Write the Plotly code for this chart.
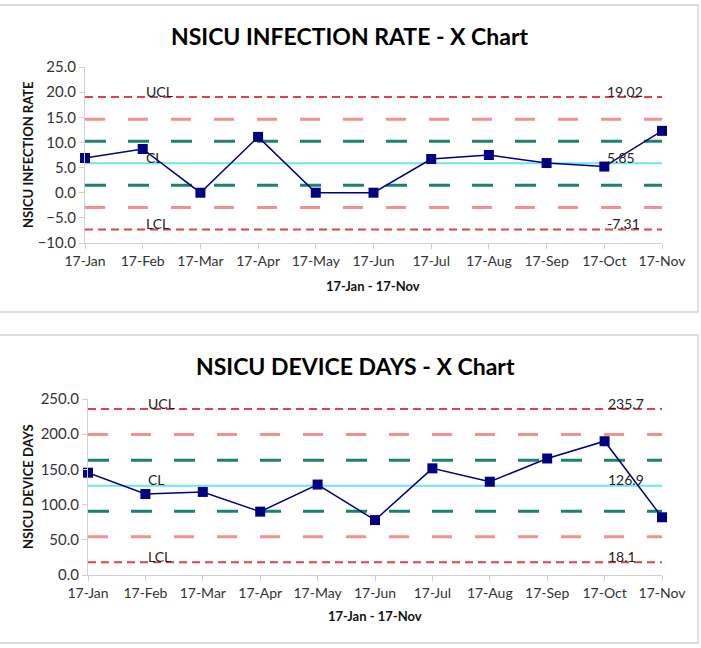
import plotly.graph_objects as go

months = ["17-Jan", "17-Feb", "17-Mar", "17-Apr", "17-May", "17-Jun",
          "17-Jul", "17-Aug", "17-Sep", "17-Oct", "17-Nov"]

infection_rate = [6.9, 8.7, 0.0, 11.1, 0.0, 0.0, 6.7, 7.5, 5.9, 5.2, 12.3]
inf_ucl, inf_cl, inf_lcl = 19.02, 5.85, -7.31

device_days = [145.3, 115.0, 118.0, 90.0, 128.5, 78.0, 151.5, 132.5, 165.5, 190.0, 82.0]
dev_ucl, dev_cl, dev_lcl = 235.7, 126.9, 18.1

FONT = "Lato"
NAVY = "#000080"
RED = "#dc4447"
PINK = "#f4908e"
TEAL = "#1b8271"
CYAN = "#6fe3ef"
AXIS = "#d0d0d0"

W, H = 701, 648

def px_x(p):
    return p / W

def px_y(p):
    return 1 - p / H

fig = go.Figure()


def add_chart(values, ucl, cl, lcl, value_labels, xa, ya):
    sigma = (ucl - cl) / 3.0
    levels = [
        (ucl, RED, "8px,5px", 2),
        (cl + 2 * sigma, PINK, "20px,23px", 3),
        (cl + sigma, TEAL, "21px,22px", 3),
        (cl, CYAN, "solid", 2),
        (cl - sigma, TEAL, "21px,22px", 3),
        (cl - 2 * sigma, PINK, "20px,23px", 3),
        (lcl, RED, "8px,5px", 2),
    ]
    for lv, col, dash, w in levels:
        fig.add_trace(go.Scatter(
            x=months, y=[lv] * len(months), mode="lines",
            line=dict(color=col, dash=dash, width=w), cliponaxis=False,
            xaxis=xa, yaxis=ya, hoverinfo="skip", showlegend=False))
    fig.add_trace(go.Scatter(
        x=months, y=values, mode="lines+markers",
        line=dict(color=NAVY, width=1.5), cliponaxis=False,
        marker=dict(symbol="square", size=10, color=NAVY),
        xaxis=xa, yaxis=ya, showlegend=False))
    for name, val, vl in zip(["UCL", "CL", "LCL"], [ucl, cl, lcl], value_labels):
        fig.add_annotation(x=months[1], y=val, xref=xa, yref=ya, text=name,
                           showarrow=False, xanchor="left", yanchor="middle",
                           yshift=6, xshift=1,
                           font=dict(family=FONT, size=14, color="#222222"))
        fig.add_annotation(x=months[9], y=val, xref=xa, yref=ya, text=vl,
                           showarrow=False, xanchor="left", yanchor="middle",
                           yshift=6, xshift=1,
                           font=dict(family=FONT, size=14, color="#222222"))


add_chart(infection_rate, inf_ucl, inf_cl, inf_lcl, ["19.02", "5.85", "-7.31"], "x", "y")
add_chart(device_days, dev_ucl, dev_cl, dev_lcl, ["235.7", "126.9", "18.1"], "x2", "y2")

xcommon = dict(type="category", range=[0, 10], showline=True, linecolor=AXIS,
               linewidth=1, ticks="outside", ticklen=5, tickcolor=AXIS,
               showgrid=False, zeroline=False, automargin=False,
               tickfont=dict(family=FONT, size=14, color="#333333"))
ycommon = dict(showline=True, linecolor=AXIS, linewidth=1, ticks="outside",
               ticklen=5, tickcolor=AXIS, showgrid=False, zeroline=False,
               tickformat=".1f", automargin=False,
               tickfont=dict(family=FONT, size=15, color="#333333"))

fig.update_layout(
    width=W, height=H, margin=dict(l=0, r=0, t=0, b=0),
    paper_bgcolor="white", plot_bgcolor="white",
    xaxis=dict(**xcommon, domain=[px_x(85), px_x(662)], anchor="y"),
    yaxis=dict(**ycommon, domain=[px_y(243), px_y(67)], anchor="x",
               range=[-10, 25], dtick=5),
    xaxis2=dict(**xcommon, domain=[px_x(88), px_x(662)], anchor="y2"),
    yaxis2=dict(**ycommon, domain=[px_y(575), px_y(399)], anchor="x2",
                range=[0, 250], dtick=50),
)

# axis titles
for txt, x, y in [("<b>17-Jan - 17-Nov</b>", 373, 286), ("<b>17-Jan - 17-Nov</b>", 375, 616)]:
    fig.add_annotation(x=px_x(x), y=px_y(y), xref="paper", yref="paper", text=txt,
                       showarrow=False, xanchor="center", yanchor="middle",
                       font=dict(family=FONT, size=13, color="#111111"))
for txt, x, y in [("<b>NSICU INFECTION RATE</b>", 28, 155), ("<b>NSICU DEVICE DAYS</b>", 28, 487)]:
    fig.add_annotation(x=px_x(x), y=px_y(y), xref="paper", yref="paper", text=txt,
                       showarrow=False, xanchor="center", yanchor="middle",
                       textangle=-90,
                       font=dict(family=FONT, size=13, color="#111111"))

# chart titles
fig.add_annotation(x=px_x(350), y=px_y(36), xref="paper", yref="paper",
                   text="<b>NSICU INFECTION RATE - X Chart</b>", showarrow=False,
                   xanchor="center", yanchor="middle",
                   font=dict(family=FONT, size=23, color="#000000"))
fig.add_annotation(x=px_x(355), y=px_y(366), xref="paper", yref="paper",
                   text="<b>NSICU DEVICE DAYS - X Chart</b>", showarrow=False,
                   xanchor="center", yanchor="middle",
                   font=dict(family=FONT, size=23, color="#000000"))

# chart borders
for y0, y1 in [(5, 312), (335, 643)]:
    fig.add_shape(type="rect", xref="paper", yref="paper",
                  x0=px_x(-2), x1=px_x(698), y0=px_y(y1), y1=px_y(y0),
                  line=dict(color="#d4d4d4", width=1.5), layer="below")

fig.write_html("out.html")
